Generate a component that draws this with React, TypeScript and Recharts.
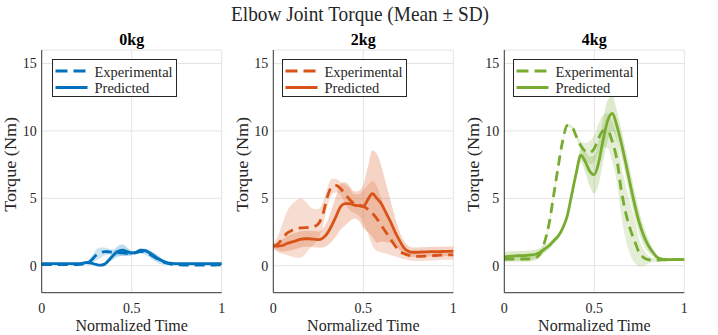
import React from 'react';
import { ComposedChart, Line, Area, XAxis, YAxis, CartesianGrid, Legend, Label } from 'recharts';

const FONT = 'Liberation Serif, Times New Roman, Times, serif';
const TEXT = '#262626';

const time = [0, 0.025, 0.05, 0.075, 0.1, 0.125, 0.15, 0.175, 0.2, 0.225, 0.25, 0.275, 0.3, 0.325, 0.35, 0.375, 0.4, 0.425, 0.45, 0.475, 0.5, 0.525, 0.55, 0.575, 0.6, 0.625, 0.65, 0.675, 0.7, 0.725, 0.75, 0.775, 0.8, 0.825, 0.85, 0.875, 0.9, 0.925, 0.95, 0.975, 1];

// 0 kg
const exp0 = [0.08, 0.08, 0.08, 0.08, 0.08, 0.08, 0.08, 0.08, 0.09, 0.12, 0.2, 0.4, 0.75, 0.95, 1.05, 1.03, 1.0, 0.98, 0.95, 0.92, 0.92, 0.98, 1.05, 1.0, 0.85, 0.65, 0.45, 0.28, 0.17, 0.1, 0.07, 0.06, 0.05, 0.05, 0.05, 0.05, 0.05, 0.05, 0.05, 0.06, 0.07];
const expSd0 = [0.05, 0.05, 0.05, 0.05, 0.05, 0.05, 0.05, 0.05, 0.05, 0.06, 0.1, 0.25, 0.4, 0.4, 0.3, 0.22, 0.2, 0.2, 0.2, 0.2, 0.15, 0.12, 0.12, 0.18, 0.25, 0.3, 0.28, 0.2, 0.12, 0.08, 0.05, 0.05, 0.05, 0.05, 0.05, 0.05, 0.05, 0.05, 0.05, 0.05, 0.05];
const pred0 = [0.15, 0.15, 0.15, 0.15, 0.15, 0.15, 0.15, 0.15, 0.15, 0.18, 0.24, 0.2, 0.1, 0.04, 0.12, 0.45, 0.8, 1.08, 1.15, 1.05, 0.95, 1.0, 1.15, 1.12, 0.95, 0.72, 0.5, 0.33, 0.22, 0.17, 0.15, 0.15, 0.15, 0.15, 0.15, 0.15, 0.15, 0.15, 0.15, 0.15, 0.15];
const predSd0 = [0.05, 0.05, 0.05, 0.05, 0.05, 0.05, 0.05, 0.05, 0.05, 0.05, 0.05, 0.05, 0.05, 0.06, 0.1, 0.2, 0.3, 0.4, 0.42, 0.3, 0.15, 0.12, 0.12, 0.15, 0.18, 0.2, 0.18, 0.12, 0.08, 0.05, 0.05, 0.05, 0.05, 0.05, 0.05, 0.05, 0.05, 0.05, 0.05, 0.05, 0.05];

// 2 kg
const exp2 = [1.45, 1.6, 2.0, 2.4, 2.6, 2.7, 2.8, 2.82, 2.85, 2.9, 3.1, 3.8, 5.1, 5.85, 5.95, 5.7, 5.3, 4.9, 4.6, 4.5, 4.4, 4.2, 3.9, 3.5, 3.0, 2.5, 2.0, 1.5, 1.1, 0.9, 0.78, 0.72, 0.7, 0.7, 0.72, 0.74, 0.76, 0.78, 0.8, 0.8, 0.8];
const expSd2 = [0.2, 0.6, 1.1, 1.6, 1.9, 2.1, 2.2, 2.0, 1.6, 1.3, 1.1, 0.9, 0.7, 0.6, 0.5, 0.5, 0.7, 0.8, 0.7, 0.8, 1.2, 1.8, 2.4, 2.4, 2.0, 1.6, 1.2, 0.8, 0.5, 0.4, 0.35, 0.35, 0.35, 0.35, 0.35, 0.35, 0.35, 0.35, 0.35, 0.35, 0.35];
const pred2 = [1.45, 1.45, 1.5, 1.65, 1.75, 1.85, 1.95, 2.0, 2.0, 1.97, 1.93, 2.05, 2.4, 3.0, 3.7, 4.4, 4.6, 4.6, 4.5, 4.45, 4.4, 4.9, 5.35, 5.0, 4.6, 3.95, 3.3, 2.55, 1.9, 1.35, 1.08, 1.0, 1.0, 1.02, 1.03, 1.04, 1.05, 1.05, 1.06, 1.07, 1.08];
const predSd2 = [0.15, 0.3, 0.45, 0.55, 0.6, 0.6, 0.6, 0.6, 0.6, 0.6, 0.6, 0.7, 0.9, 1.2, 1.5, 1.7, 1.6, 1.3, 1.0, 1.1, 1.6, 2.4, 3.2, 3.3, 2.8, 2.2, 1.6, 1.1, 0.7, 0.5, 0.4, 0.35, 0.35, 0.35, 0.35, 0.35, 0.35, 0.35, 0.35, 0.35, 0.35];

// 4 kg
const exp4 = [0.5, 0.5, 0.5, 0.5, 0.5, 0.5, 0.52, 0.6, 0.9, 1.8, 3.2, 5.3, 7.4, 9.3, 10.4, 10.3, 9.6, 8.9, 8.5, 8.4, 8.7, 9.5, 10.0, 10.0, 9.2, 7.9, 5.6, 3.9, 2.7, 1.8, 0.95, 0.6, 0.45, 0.42, 0.42, 0.43, 0.44, 0.45, 0.45, 0.45, 0.45];
const expSd4 = [0.2, 0.2, 0.2, 0.2, 0.2, 0.2, 0.2, 0.2, 0.2, 0.2, 0.2, 0.2, 0.18, 0.15, 0.12, 0.15, 0.2, 0.35, 0.6, 0.85, 1.0, 1.1, 1.2, 1.3, 1.5, 1.7, 1.9, 2.0, 1.9, 1.6, 1.0, 0.6, 0.3, 0.15, 0.1, 0.1, 0.1, 0.1, 0.1, 0.1, 0.1];
const pred4 = [0.65, 0.7, 0.72, 0.74, 0.75, 0.77, 0.8, 0.85, 1.0, 1.25, 1.5, 1.85, 2.2, 2.8, 3.7, 5.3, 6.9, 8.2, 7.7, 7.0, 6.75, 7.7, 9.4, 10.8, 11.3, 10.4, 9.1, 7.6, 6.0, 4.5, 3.2, 2.2, 1.5, 1.0, 0.62, 0.5, 0.46, 0.45, 0.45, 0.45, 0.45];
const predSd4 = [0.35, 0.35, 0.35, 0.35, 0.35, 0.35, 0.35, 0.35, 0.3, 0.28, 0.25, 0.22, 0.2, 0.2, 0.2, 0.25, 0.35, 0.5, 0.8, 1.1, 1.4, 1.6, 1.6, 1.5, 1.3, 1.1, 1.0, 1.0, 1.0, 0.95, 0.85, 0.7, 0.5, 0.3, 0.15, 0.1, 0.1, 0.1, 0.1, 0.1, 0.1];

const mainTitle = 'Elbow Joint Torque (Mean ± SD)';
const panelTitles = ['0kg', '2kg', '4kg'];
const panelColors = ['#0072BD', '#D95319', '#77AC30'];
const legendLabels = ['Experimental', 'Predicted'];
const xLabel = 'Normalized Time';
const yLabel = 'Torque (Nm)';
const xTicks = [0, 0.5, 1];
const yTicks = [0, 5, 10, 15];

const seriesSets = [
  [exp0, expSd0, pred0, predSd0],
  [exp2, expSd2, pred2, predSd2],
  [exp4, expSd4, pred4, predSd4],
];

function buildRows(exp: number[], expSd: number[], pred: number[], predSd: number[]) {
  return time.map((t, i) => ({
    t,
    exp: exp[i],
    pred: pred[i],
    expBand: [exp[i] - expSd[i], exp[i] + expSd[i]],
    predBand: [pred[i] - predSd[i], pred[i] + predSd[i]],
  }));
}

const PLOT_TOP = 50;
const PLOT_H = 242.7;
const Y_AXIS_W = 30;
const layout = [
  { chartLeft: 0, width: 232, ml: 11.7, mr: 10.3, legendLeft: 51.7 },
  { chartLeft: 232, width: 232, ml: 11.3, mr: 10.7, legendLeft: 49.7 },
  { chartLeft: 464, width: 254, ml: 10.3, mr: 33.7, legendLeft: 48.7 },
];

function LegendBox({ color }: { color: string }) {
  return (
    <div style={{ boxSizing: 'border-box', width: 125, height: 38, border: '1px solid #262626', background: '#fff', position: 'relative' }}>
      <svg width={123} height={36} style={{ position: 'absolute', left: 0, top: 0, display: 'block' }}>
        <line x1={2.5} x2={34.5} y1={11} y2={11} stroke={color} strokeWidth={2.8} strokeDasharray="12 6" />
        <line x1={2.5} x2={34.5} y1={27.5} y2={27.5} stroke={color} strokeWidth={2.8} />
        <text x={41.5} y={16.5} fontFamily={FONT} fontSize={14.5} fill={TEXT}>{legendLabels[0]}</text>
        <text x={41.5} y={33} fontFamily={FONT} fontSize={14.5} fill={TEXT}>{legendLabels[1]}</text>
      </svg>
    </div>
  );
}

function Panel({ idx }: { idx: number }) {
  const L = layout[idx];
  const color = panelColors[idx];
  const [e, es, p, ps] = seriesSets[idx];
  const rows = buildRows(e, es, p, ps);
  const cx = L.ml + Y_AXIS_W - 31;
  const cy = PLOT_TOP + PLOT_H / 2 - 7;
  return (
    <div style={{ position: 'absolute', left: L.chartLeft, top: 0 }}>
      <ComposedChart width={L.width} height={335} data={rows} margin={{ top: PLOT_TOP, right: L.mr, bottom: 2.3, left: L.ml }}>
        <CartesianGrid stroke="#e4e4e4" strokeWidth={1} />
        <XAxis
          dataKey="t"
          type="number"
          domain={[0, 1]}
          ticks={xTicks}
          interval={0}
          tickLine={false}
          tickSize={0}
          tickMargin={10}
          height={40}
          axisLine={{ stroke: '#3a3a3a', strokeWidth: 1 }}
          tick={{ fontFamily: FONT, fontSize: 14, fill: TEXT }}
        >
          <Label value={xLabel} position="insideBottom" offset={1.5} style={{ fontFamily: FONT, fontSize: 16, fill: TEXT }} />
        </XAxis>
        <YAxis
          type="number"
          domain={[-2, 16]}
          ticks={yTicks}
          interval={0}
          allowDataOverflow
          tickLine={false}
          tickSize={0}
          tickMargin={5}
          width={Y_AXIS_W}
          axisLine={{ stroke: '#3a3a3a', strokeWidth: 1 }}
          tick={{ fontFamily: FONT, fontSize: 14, fill: TEXT }}
        >
          <Label
            content={() => (
              <text
                x={cx}
                y={cy}
                transform={`rotate(-90 ${cx} ${cy})`}
                textAnchor="middle"
                dominantBaseline="central"
                fontFamily={FONT}
                fontSize={17}
                textLength={95}
                lengthAdjust="spacingAndGlyphs"
                fill={TEXT}
              >
                {yLabel}
              </text>
            )}
          />
        </YAxis>
        <Area dataKey="expBand" type="monotone" stroke="none" fill={color} fillOpacity={0.2} isAnimationActive={false} />
        <Line dataKey="exp" type="monotone" stroke={color} strokeWidth={2.8} strokeDasharray="10 6" dot={false} activeDot={false} isAnimationActive={false} />
        <Area dataKey="predBand" type="monotone" stroke="none" fill={color} fillOpacity={0.25} isAnimationActive={false} />
        <Line dataKey="pred" type="monotone" stroke={color} strokeWidth={2.8} dot={false} activeDot={false} isAnimationActive={false} />
        <Legend
          layout="vertical"
          align="center"
          verticalAlign="middle"
          wrapperStyle={{ left: L.legendLeft, top: 59.3, width: 125, height: 38, margin: 0, padding: 0 }}
          content={() => <LegendBox color={color} />}
        />
      </ComposedChart>
    </div>
  );
}

export default function App() {
  const centers = layout.map((L) => L.chartLeft + L.ml + Y_AXIS_W + 90);
  return (
    <div style={{ position: 'absolute', left: 0, top: 0, width: 718, height: 335, background: '#fff', overflow: 'hidden', fontFamily: FONT }}>
      {layout.map((_, i) => (
        <Panel key={i} idx={i} />
      ))}
      <svg width={718} height={335} style={{ position: 'absolute', left: 0, top: 0, pointerEvents: 'none' }}>
        <text x={360} y={21} textAnchor="middle" fontFamily={FONT} fontSize={21} textLength={258} lengthAdjust="spacingAndGlyphs" fill={TEXT}>{mainTitle}</text>
        {panelTitles.map((t, i) => (
          <text key={t} x={centers[i]} y={45} textAnchor="middle" fontFamily={FONT} fontSize={16} fontWeight="bold" fill="#000">{t}</text>
        ))}
      </svg>
    </div>
  );
}
